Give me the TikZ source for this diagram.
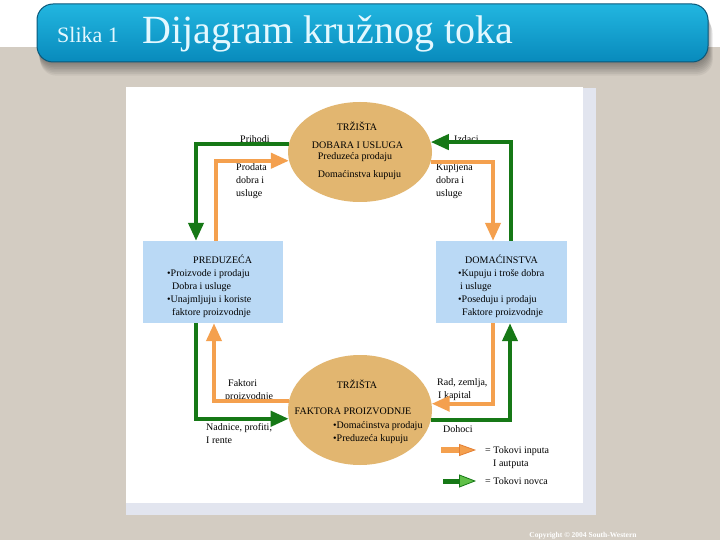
\documentclass[tikz,border=0pt]{standalone}
\usepackage{fontspec}
\setmainfont{Liberation Serif}
\usetikzlibrary{arrows.meta,shapes.geometric}

\definecolor{tokGreen}{RGB}{22,120,22}
\definecolor{tokGreenLight}{RGB}{96,192,72}
\definecolor{tokOrange}{RGB}{244,160,78}
\definecolor{tokOrangeDark}{RGB}{228,128,52}
\definecolor{trziste}{RGB}{226,182,112}
\definecolor{sektor}{RGB}{186,217,245}
\definecolor{pozadina}{RGB}{211,204,194}
\definecolor{senka}{RGB}{226,229,239}
\definecolor{naslovText}{RGB}{228,248,255}

\begin{document}
\begin{tikzpicture}[x=1pt, y=-1pt,
	tekst/.style={font=\fontsize{10}{13}\selectfont, inner sep=0pt},
	lbl/.style={tekst, align=left, anchor=north west, execute at begin node=\strut},
	mid/.style={tekst, anchor=base},
	trz/.style={ellipse, fill=trziste, minimum width=144pt, minimum height=100pt, inner sep=0pt},
	sek/.style={rectangle, fill=sektor, minimum height=82pt, inner sep=0pt},
	novac/.style={draw=tokGreen, line width=4pt, -{Triangle[length=18pt,width=15pt]}},
	roba/.style={draw=tokOrange, line width=4pt, -{Triangle[length=18pt,width=15pt]}},
	legNovac/.style={draw=tokGreen, line width=5pt, -{Triangle[length=17pt,width=13pt,line width=0.8pt,fill=tokGreenLight]}},
	legRoba/.style={draw=tokOrange, line width=5.5pt, -{Triangle[length=17pt,width=12pt,line width=0.8pt,fill=tokOrange,color=tokOrangeDark]}},
]
	\useasboundingbox (0,0) rectangle (720,540);
	% slide background
	\fill[white] (0,0) rectangle (720,540);
	\fill[pozadina] (0,47) rectangle (720,540);
	\foreach \i in {1,...,8}
		\fill[black, opacity=0.05, rounded corners=16pt] (37+\i*0.4,4+\i*1.7) rectangle (708+\i*0.6,62+\i*1.7);
	\shade[top color={rgb,255:red,34;green,182;blue,224}, bottom color={rgb,255:red,8;green,138;blue,188},
		draw={rgb,255:red,10;green,88;blue,122}, line width=1pt, rounded corners=16pt] (37,4) rectangle (708,62);
	\node[anchor=base west, inner sep=0pt, text=naslovText, font=\fontsize{22}{22}\selectfont] (slika) at (57,43) {Slika 1};
	\node[anchor=base west, inner sep=0pt, text=naslovText, font=\fontsize{40}{40}\selectfont] (naslov) at (142,44) {Dijagram kružnog toka};

	% white panel with its shadow
	\fill[senka] (126,88) rectangle (596,515);
	\fill[white] (126,87) rectangle (583,503);

	\node[trz] (trzDobara) at (360,152) {};
	\node[trz, minimum height=110pt] (trzFaktora) at (360,410) {};
	\node[sek, minimum width=140pt] (preduzeca) at (213,282) {};
	\node[sek, minimum width=131pt] (domacinstva) at (501.5,282) {};

	% market for goods and services
	\node[mid] (trzDobaraA) at (357,131) {TRŽIŠTA};
	\node[mid] (trzDobaraB) at (357.5,149) {DOBARA I USLUGA};
	\node[mid] (trzDobaraC) at (355,160) {Preduzeća prodaju};
	\node[mid] (trzDobaraD) at (359.5,178) {Domaćinstva kupuju};

	% market for factors of production
	\node[mid] (trzFaktoraA) at (357,388) {TRŽIŠTA};
	\node[mid] (trzFaktoraB) at (353,414) {FAKTORA PROIZVODNJE};
	\node[lbl] (trzFaktoraC) at (333,421) {•Domaćinstva prodaju\\•Preduzeća kupuju};

	\node[lbl] (preduzecaTxt) at (167,255) {\hspace*{26pt}PREDUZEĆA\\•Proizvode i prodaju\\\hspace*{5pt}Dobra i usluge\\•Unajmljuju i koriste\\\hspace*{5pt}faktore proizvodnje};
	\node[lbl] (domacinstvaTxt) at (458,255) {\hspace*{7pt}DOMAĆINSTVA\\•Kupuju i troše dobra\\\hspace*{2pt}i usluge\\•Poseduju i prodaju\\\hspace*{4pt}Faktore proizvodnje};

	% flow labels
	\node[lbl] (prihodi) at (240,133) {Prihodi};
	\node[lbl] (prodata) at (236,163) {Prodata\\dobra i\\usluge};
	\node[lbl] (izdaci) at (454,133) {Izdaci};
	\node[lbl] (kupljena) at (436,163) {Kupljena\\dobra i\\usluge};
	\node[lbl] (faktori) at (225,379) {\hspace*{3pt}Faktori\\proizvodnje};
	\node[lbl] (nadnice) at (206,423) {Nadnice, profiti,\\I rente};
	\node[lbl] (rad) at (437,378) {Rad, zemlja,\\\hspace*{1pt}I kapital};
	\node[lbl] (dohoci) at (443,423) {Dohoci};

	% circular flows
	\draw[novac] (trzDobara.174) -| ([xshift=-17pt]preduzeca.north);
	\draw[roba] ([xshift=3pt]preduzeca.north) |- (trzDobara.187);
	\draw[novac] ([xshift=9.5pt]domacinstva.north) |- (trzDobara.8);
	\draw[roba] (trzDobara.352) -| ([xshift=-8.5pt]domacinstva.north);
	\draw[roba] (trzFaktora.173) -| ([xshift=1pt]preduzeca.south);
	\draw[novac] ([xshift=-17pt]preduzeca.south) |- (trzFaktora.187);
	\draw[roba] ([xshift=-8.5pt]domacinstva.south) |- (trzFaktora.5);
	\draw[novac] (trzFaktora.352) -| ([xshift=8.5pt]domacinstva.south);

	% legend
	\coordinate (legRobaA) at (441,450);
	\coordinate (legRobaB) at (476,450);
	\coordinate (legNovacA) at (443,481);
	\coordinate (legNovacB) at (476,481);
	\draw[legRoba] (legRobaA) -- (legRobaB);
	\draw[legNovac] (legNovacA) -- (legNovacB);
	\node[lbl] (legRobaTxt) at (485,446) {= Tokovi inputa\\\hspace*{8pt}I autputa};
	\node[lbl] (legNovacTxt) at (485,475) {= Tokovi novca};

	\node[text=white, font=\fontsize{7.5}{8}\bfseries\selectfont, inner sep=0pt, anchor=base] (copyright) at (583,537) {Copyright © 2004 South-Western};
\end{tikzpicture}
\end{document}
